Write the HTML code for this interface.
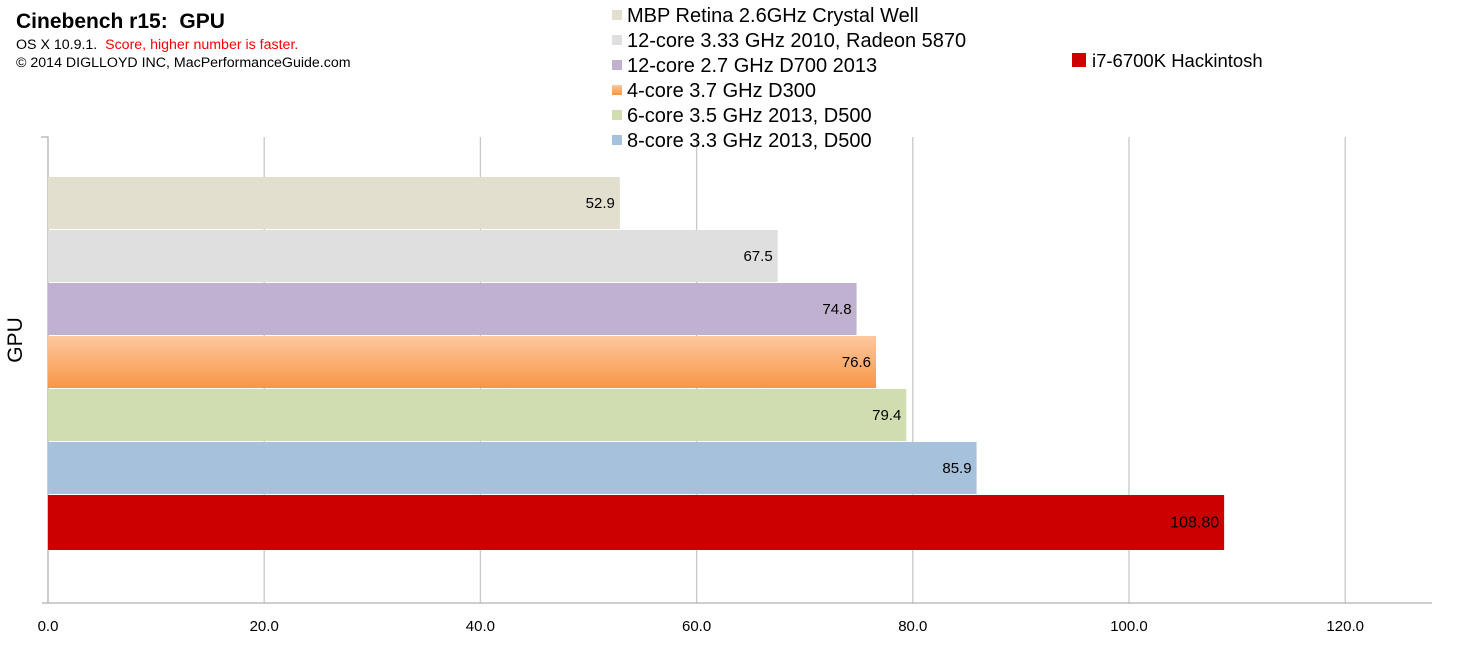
<!DOCTYPE html>
<html><head><meta charset="utf-8"><style>
body{margin:0;background:#fff;width:1464px;height:652px;overflow:hidden;font-family:"Liberation Sans",Arial,sans-serif}
</style></head><body>
<svg id="c" width="1464" height="652" xmlns="http://www.w3.org/2000/svg" font-family="Liberation Sans, Arial, sans-serif">
<defs>
<linearGradient id="og" x1="0" y1="0" x2="0" y2="1"><stop offset="0" stop-color="#fdc8a0"/><stop offset="1" stop-color="#f79646"/></linearGradient>
</defs>
<text x="16" y="28" font-size="21" font-weight="bold">Cinebench r15:&#160; GPU</text>
<text x="16" y="49" font-size="14.2">OS X 10.9.1.&#160; <tspan fill="#ff0000">Score, higher number is faster.</tspan></text>
<text x="16" y="67" font-size="14.2">© 2014 DIGLLOYD INC, MacPerformanceGuide.com</text>
<text transform="translate(22,340) rotate(-90)" text-anchor="middle" font-size="21">GPU</text>
<g id="grid"></g><g id="bars"></g><g id="legend"></g>
</svg>
<script>
const categories=["MBP Retina 2.6GHz Crystal Well","12-core 3.33 GHz 2010, Radeon 5870","12-core 2.7 GHz D700 2013","4-core 3.7 GHz D300","6-core 3.5 GHz 2013, D500","8-core 3.3 GHz 2013, D500","i7-6700K Hackintosh"];
const values=[52.9,67.5,74.8,76.6,79.4,85.9,108.8];
const valueLabels=["52.9","67.5","74.8","76.6","79.4","85.9","108.80"];
const ticks=[0,20,40,60,80,100,120];
const tickLabels=["0.0","20.0","40.0","60.0","80.0","100.0","120.0"];
const colors=["#e2dfce","#dfdfdf","#c0b1d0","url(#og)","#d0ddb0","#a6c1dc","#cc0000"];
const NS="http://www.w3.org/2000/svg";
const x=v=>48+v*10.81;
function mk(t,a,p){const e=document.createElementNS(NS,t);for(const k in a)e.setAttribute(k,a[k]);p.appendChild(e);return e;}
const g=document.getElementById('grid');
ticks.forEach((t,i)=>{
 if(i>0){const l=mk('line',{x1:x(t),x2:x(t),y1:137,y2:603,stroke:'#c8c8c8','stroke-width':1.3},g);
 
 }
 const tx=mk('text',{x:x(t),y:631,'text-anchor':'middle','font-size':15},g);tx.textContent=tickLabels[i];
 
 
});
const ax=mk('path',{d:'M41 137H48V603M42 603H1432',stroke:'#b0b0b0','stroke-width':1.3,fill:'none'},g);


const b=document.getElementById('bars');
values.forEach((v,i)=>{
 const y=177+i*53,h=i==6?55:52;
 const r=mk('rect',{x:48,y:y,width:x(v)-48,height:h,fill:colors[i]},b);
 
 
 const t=mk('text',{x:x(v)-5,y:y+h/2+5,'text-anchor':'end','font-size':i==6?16:15},b);t.textContent=valueLabels[i];
 
 
});
const lg=document.getElementById('legend');
categories.forEach((c,i)=>{
 let sx=612,sy=15+i*25,fs=20;
 if(i==6){sx=1072;sy=60;fs=18.5;}
 const gg=mk('g',{},lg);
 
 
 const s=i==6?14:10;
 mk('rect',{x:sx,y:sy-s/2,width:s,height:s,fill:colors[i]},gg);
 const t=mk('text',{x:sx+(i==6?6+s:15),y:sy+7,'font-size':fs},gg);t.textContent=c;
});
</script>
</body></html>
